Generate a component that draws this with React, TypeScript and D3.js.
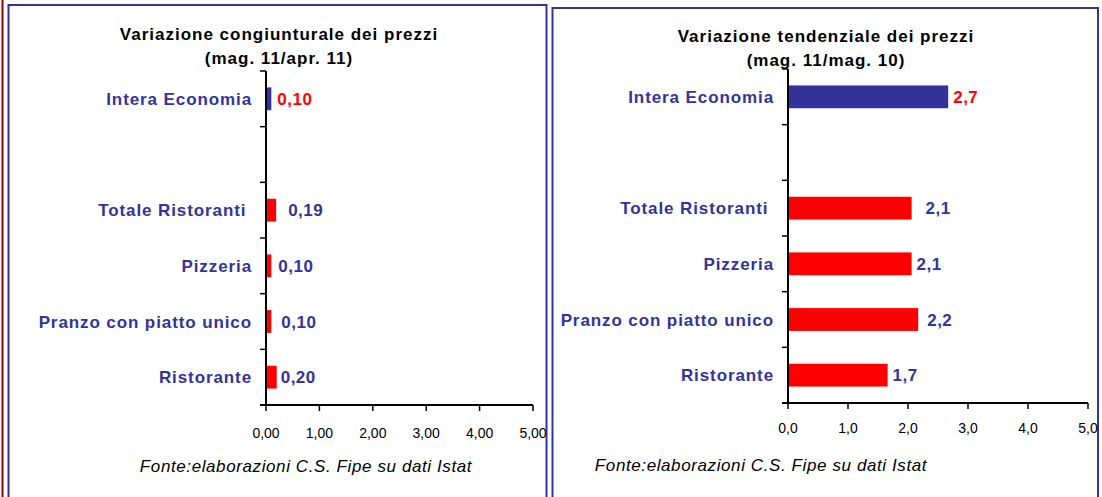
import React from 'react';
import * as d3 from 'd3';

const categories = ['Intera Economia', '', 'Totale Ristoranti ', 'Pizzeria', 'Pranzo con piatto unico', 'Ristorante'];
const congValues: (number | null)[] = [0.10, null, 0.19, 0.10, 0.10, 0.20];
const tendValues: (number | null)[] = [2.67, null, 2.06, 2.06, 2.17, 1.66];
const congTicks = [0, 1, 2, 3, 4, 5];
const tendTicks = [0, 1, 2, 3, 4, 5];
const congTitle = ['Variazione congiunturale dei prezzi', '(mag. 11/apr. 11)'];
const tendTitle = ['Variazione tendenziale dei prezzi', '(mag. 11/mag. 10)'];
const sourceText = 'Fonte:elaborazioni C.S. Fipe su dati Istat';

// styling (not data)
const congLabelDx = [6, 0, 12, 7, 10, 4];
const tendLabelDx = [5, 0, 14, 5, 9, 5];

const BLUE = '#333399';
const RED = '#FF0000';
const FONT = '"Liberation Sans", Arial, sans-serif';

const fmt = (v: number, d: number) => v.toFixed(d).replace('.', ',');

type PanelProps = {
  values: (number | null)[];
  ticks: number[];
  title: string[];
  tickDec: number;
  valDec: number;
  labelDx: number[];
  x0: number;
  x1: number;
  y0: number;
  y1: number;
  titleX: number;
  titleY: number;
  tickLabelY: number;
  srcX: number;
  srcY: number;
};

function Panel(p: PanelProps) {
  const x = d3.scaleLinear().domain([0, 5]).range([p.x0, p.x1]);
  const keys = categories.map((_, i) => String(i));
  const y = d3.scaleBand<string>().domain(keys).range([p.y0, p.y1]).paddingInner(0.59).paddingOuter(0.295);
  const yb = d3.scaleBand<string>().domain(keys).range([p.y0, p.y1]);
  const boundaries = d3.range(categories.length + 1).map((i) => p.y0 + i * yb.step());
  return (
    <g>
      <text x={p.titleX} y={p.titleY} textAnchor="middle" fontFamily={FONT} fontWeight="bold" fontSize={17} letterSpacing={1.0} fill="#000">
        {p.title[0]}
      </text>
      <text x={p.titleX} y={p.titleY + 24} textAnchor="middle" fontFamily={FONT} fontWeight="bold" fontSize={17} letterSpacing={1.0} fill="#000">
        {p.title[1]}
      </text>
      {categories.map((c, i) => {
        const v = p.values[i];
        const cy = (yb(String(i)) as number) + yb.bandwidth() / 2;
        return (
          <g key={i}>
            {c && (
              <text x={p.x0 - 14} y={cy} dy="0.36em" textAnchor="end" fontFamily={FONT} fontWeight="bold" fontSize={17} letterSpacing={0.9} fill={BLUE} style={{ whiteSpace: 'pre' }}>
                {c}
              </text>
            )}
            {v != null && (
              <rect x={x(0)} y={y(String(i))} width={x(v) - x(0)} height={y.bandwidth()} fill={i === 0 ? BLUE : RED} />
            )}
            {v != null && (
              <text x={x(v) + p.labelDx[i]} y={cy} dy="0.36em" fontFamily={FONT} fontWeight="bold" fontSize={17} letterSpacing={0.5} fill={i === 0 ? RED : BLUE}>
                {fmt(v, p.valDec)}
              </text>
            )}
          </g>
        );
      })}
      <line x1={p.x0} x2={p.x0} y1={p.y0} y2={p.y1} stroke="#000" strokeWidth={2} />
      {boundaries.map((b, i) => (
        <line key={i} x1={p.x0 - 6} x2={p.x0} y1={b} y2={b} stroke="#000" strokeWidth={1.5} />
      ))}
      <line x1={p.x0 - 6} x2={p.x1} y1={p.y1} y2={p.y1} stroke="#000" strokeWidth={2} />
      {p.ticks.map((t) => (
        <g key={t}>
          <line x1={x(t)} x2={x(t)} y1={p.y1} y2={p.y1 + 6} stroke="#000" strokeWidth={1.5} />
          <text x={x(t)} y={p.tickLabelY} dy="0.36em" textAnchor="middle" fontFamily={FONT} fontSize={14} fill="#000">
            {fmt(t, p.tickDec)}
          </text>
        </g>
      ))}
      <text x={p.srcX} y={p.srcY} dy="0.36em" textAnchor="middle" fontFamily={FONT} fontStyle="italic" fontSize={17} letterSpacing={0.6} fill="#000">
        {sourceText}
      </text>
    </g>
  );
}

export default function App() {
  return (
    <svg width={1102} height={497} style={{ position: 'absolute', left: 0, top: 0, background: '#fff' }}>
      <rect x={0} y={0} width={1102} height={497} fill="#fff" />
      <line x1={2.5} x2={2.5} y1={0} y2={497} stroke="#990000" strokeWidth={2} />
      <rect x={8.5} y={5} width={538} height={500} fill="none" stroke={BLUE} strokeWidth={2} />
      <rect x={552.5} y={8} width={545.5} height={500} fill="none" stroke={BLUE} strokeWidth={2} />
      <Panel
        values={congValues}
        ticks={congTicks}
        title={congTitle}
        tickDec={2}
        valDec={2}
        labelDx={congLabelDx}
        x0={266}
        x1={533}
        y0={71}
        y1={405}
        titleX={279}
        titleY={40}
        tickLabelY={433}
        srcX={306}
        srcY={466}
      />
      <Panel
        values={tendValues}
        ticks={tendTicks}
        title={tendTitle}
        tickDec={1}
        valDec={1}
        labelDx={tendLabelDx}
        x0={788}
        x1={1088}
        y0={69}
        y1={403}
        titleX={826}
        titleY={42}
        tickLabelY={428}
        srcX={761}
        srcY={465}
      />
    </svg>
  );
}
